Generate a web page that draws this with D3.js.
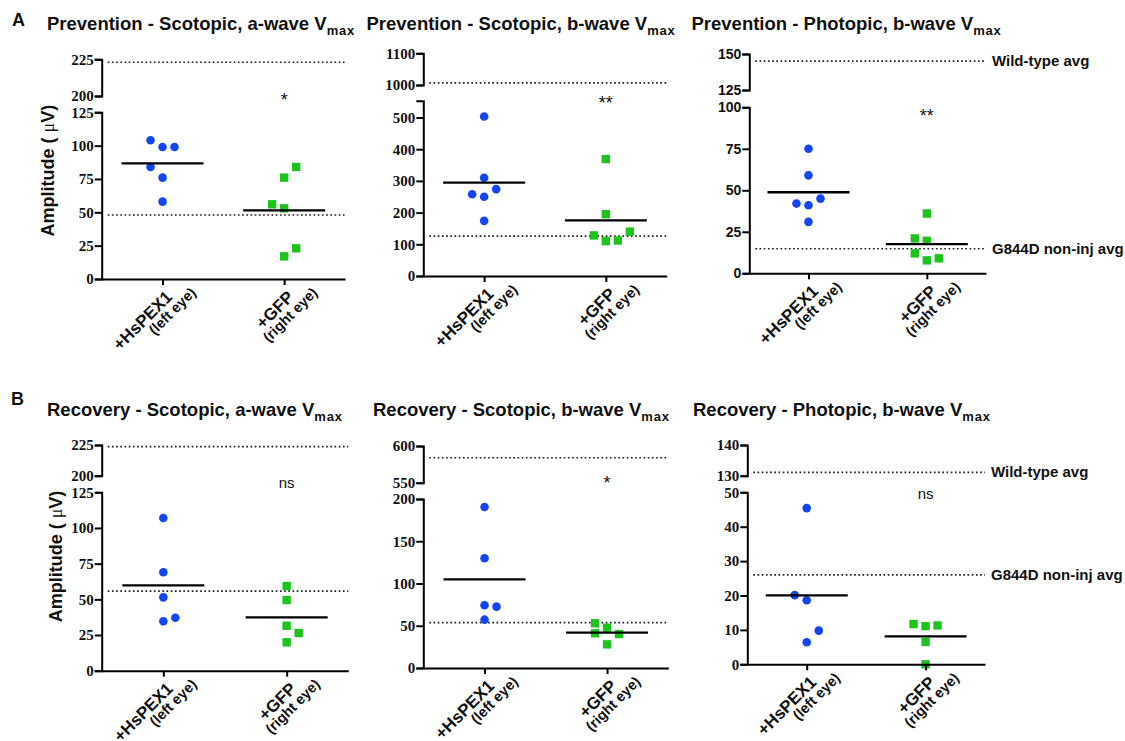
<!DOCTYPE html>
<html>
<head>
<meta charset="utf-8">
<script src="https://cdn.jsdelivr.net/npm/d3@7"></script>
<style>
  body { margin: 0; background: #fff; }
  text { fill: #111; }
</style>
</head>
<body>
<div id="chart"></div>
<script>
// groups on the x axis
const categories = ["+HsPEX1", "+GFP"];
const eyeLabels = ["(left eye)", "(right eye)"];

// amplitudes (uV), one array per panel and group
const prevScotA_hspex = [104, 99, 99, 84, 76, 58];
const prevScotA_gfp   = [84, 76, 56, 53, 23, 17];
const prevScotB_hspex = [503, 310, 258, 274, 250, 174];
const prevScotB_gfp   = [369, 195, 128, 110, 112, 140];
const prevPhotB_hspex = [75, 59, 42, 41, 45, 31];
const prevPhotB_gfp   = [36, 21, 19.6, 12, 7.8, 9];
const recScotA_hspex  = [107, 69, 51.4, 34.6, 37.1];
const recScotA_gfp    = [59.3, 49.5, 31.5, 26.4, 19.9];
const recScotB_hspex  = [190.5, 129.8, 74.2, 72.6, 57.2];
const recScotB_gfp    = [52.9, 47.7, 41, 40.2, 28];
const recPhotB_hspex  = [45.4, 20.1, 18.6, 9.8, 6.4];
const recPhotB_gfp    = [11.7, 11.1, 11.3, 6.5, 0];

// dotted reference averages per panel
const wildTypeAvg = [223, 1007, 145, 223.6, 584, 131.1];
const nonInjAvg   = [48, 126, 14.8, 55.8, 53.6, 26];
const sigLabels   = ["*", "**", "**", "ns", "*", "ns"];

// y tick labels per axis segment
const lowTicks = [[0, 25, 50, 75, 100, 125], [0, 100, 200, 300, 400, 500], [0, 25, 50, 75, 100],
                  [0, 25, 50, 75, 100, 125], [0, 50, 100, 150, 200], [0, 10, 20, 30, 40, 50]];
const hiTicks  = [[200, 225], [1000, 1100], [125, 150], [200, 225], [550, 600], [130, 140]];

const blue = "#1445f3", green = "#1ec41e";

// layout of each panel (pixels)
const panels = [
  { title: "Prevention - Scotopic, a-wave V", tx: 47, ty: 30, ax: 101.7, ay: 279, xEnd: 345,
    low: [0, 125], lowTop: 112.3, hi: [200, 225], hiY: [96, 59.3], serif: true, ylab: 53.5,
    data: [prevScotA_hspex, prevScotA_gfp], cols: [[-1, 0, 1, -1, 0, 0], [1, 0, -1, 0, 1, 0]], sigY: 97 },
  { title: "Prevention - Scotopic, b-wave V", tx: 366.5, ty: 30, ax: 423.3, ay: 276, xEnd: 666.7,
    low: [0, 553], lowTop: 100.7, hi: [1000, 1100], hiY: [85, 53.3], serif: true,
    data: [prevScotB_hspex, prevScotB_gfp], cols: [[0, 0, -1, 1, 0, 0], [0, 0, -1, 0, 1, 2]], sigY: 100 },
  { title: "Prevention - Photopic, b-wave V", tx: 691.5, ty: 30, ax: 749.3, ay: 273.3, xEnd: 986,
    low: [0, 100], lowTop: 107.3, hi: [125, 150], hiY: [90, 54], serif: false, refLabels: true,
    data: [prevPhotB_hspex, prevPhotB_gfp], cols: [[0, 0, -1, 0, 1, 0], [0, -1, 0, -1, 0, 1]], sigY: 113 },
  { title: "Recovery - Scotopic, a-wave V", tx: 47, ty: 416, ax: 101.7, ay: 670.7, xEnd: 348.3,
    low: [0, 125], lowTop: 492.3, hi: [200, 225], hiY: [475.7, 445], serif: true, ylab: 62,
    data: [recScotA_hspex, recScotA_gfp], cols: [[0, 0, 0, 0, 1], [0, 0, 0, 1, 0]], sigY: 483 },
  { title: "Recovery - Scotopic, b-wave V", tx: 373, ty: 416, ax: 423.3, ay: 668, xEnd: 668.3,
    low: [0, 200], lowTop: 499, hi: [550, 600], hiY: [482.7, 446], serif: true,
    data: [recScotB_hspex, recScotB_gfp], cols: [[0, 0, 0, 1, 0], [-1, 0, -1, 1, 0]], sigY: 480 },
  { title: "Recovery - Photopic, b-wave V", tx: 693, ty: 416, ax: 747.3, ay: 664.3, xEnd: 985,
    low: [0, 50], lowTop: 492.3, hi: [130, 140], hiY: [475.7, 445], serif: true, refLabels: true,
    data: [recPhotB_hspex, recPhotB_gfp], cols: [[0, -1, 0, 1, 0], [-1, 0, 1, 0, 0]], sigY: 494 }
];

const sans = "'Liberation Sans', Arial, sans-serif";
const serif = "'Liberation Serif', 'Times New Roman', serif";

const svg = d3.select("#chart").append("svg")
  .attr("width", 1125).attr("height", 741)
  .style("background", "#fff");

// panel letters
svg.append("text").attr("x", 12).attr("y", 25.5).text("A")
  .style("font-family", sans).attr("font-weight", "bold").attr("font-size", 18);
svg.append("text").attr("x", 11).attr("y", 405).text("B")
  .style("font-family", sans).attr("font-weight", "bold").attr("font-size", 18);

panels.forEach((p, i) => {
  const g = svg.append("g");

  const x = d3.scalePoint().domain(categories).range([p.ax, p.xEnd]).padding(0.5);
  const yLow = d3.scaleLinear().domain(p.low).range([p.ay, p.lowTop]);
  const yHi = d3.scaleLinear().domain(p.hi).range(p.hiY);
  const y = v => v >= p.hi[0] ? yHi(v) : yLow(v);
  const jitter = 12;

  // title
  const t = g.append("text").attr("x", p.tx).attr("y", p.ty)
    .style("font-family", sans).attr("font-weight", "bold").attr("font-size", 18.5);
  t.append("tspan").text(p.title);
  t.append("tspan").text("max").attr("font-size", 13).attr("dy", 5).attr("letter-spacing", 0.8);

  // dotted reference lines
  [wildTypeAvg[i], nonInjAvg[i]].forEach(v => {
    g.append("line")
      .attr("x1", p.ax + 6).attr("x2", p.xEnd)
      .attr("y1", y(v)).attr("y2", y(v))
      .attr("stroke", "#222").attr("stroke-width", 1.7)
      .attr("stroke-dasharray", "1.7,2.5");
  });
  if (p.refLabels) {
    g.append("text").attr("x", p.xEnd + 6).attr("y", y(wildTypeAvg[i]) + 5)
      .text("Wild-type avg")
      .style("font-family", sans).attr("font-weight", "bold").attr("font-size", 15);
    g.append("text").attr("x", p.xEnd + 6).attr("y", y(nonInjAvg[i]) + 5)
      .text("G844D non-inj avg")
      .style("font-family", sans).attr("font-weight", "bold").attr("font-size", 15);
  }

  // points
  categories.forEach((c, k) => {
    const pts = p.data[k].map((v, j) => ({ v, col: p.cols[k][j] }));
    if (k === 0) {
      g.selectAll(null).data(pts).enter().append("circle")
        .attr("cx", d => x(c) + d.col * jitter)
        .attr("cy", d => y(d.v))
        .attr("r", 4.3)
        .attr("fill", blue);
    } else {
      g.selectAll(null).data(pts).enter().append("rect")
        .attr("x", d => x(c) + d.col * jitter - 4.2)
        .attr("y", d => y(d.v) - 4.2)
        .attr("width", 8.4).attr("height", 8.4)
        .attr("fill", green);
    }
    // mean line
    const m = d3.mean(p.data[k]);
    g.append("line")
      .attr("x1", x(c) - 41).attr("x2", x(c) + 41)
      .attr("y1", yLow(m)).attr("y2", yLow(m))
      .attr("stroke", "#000").attr("stroke-width", 2.3);
  });

  // broken y axis: lower and upper segments
  const tickFont = p.serif ? serif : sans;
  [[yLow, lowTicks[i]], [yHi, hiTicks[i]]].forEach(([sc, tv]) => {
    const ax = g.append("g")
      .attr("transform", `translate(${p.ax},0)`)
      .call(d3.axisLeft(sc).tickValues(tv).tickSize(7).tickSizeOuter(7).tickPadding(1).tickFormat(d3.format("d")));
    ax.attr("font-family", null).attr("font-size", null);
    ax.selectAll("path, line").attr("stroke", "#000").attr("stroke-width", 2);
    ax.selectAll("text")
      .style("font-family", tickFont).style("font-weight", "bold")
      .style("font-size", p.serif ? "15px" : "14px").style("fill", "#111");
  });

  // x axis
  const xa = g.append("g")
    .attr("transform", `translate(0,${p.ay})`)
    .call(d3.axisBottom(x).tickSize(6).tickSizeOuter(0).tickFormat(""));
  xa.selectAll("path, line").attr("stroke", "#000").attr("stroke-width", 2);

  // rotated category labels
  categories.forEach((c, k) => {
    const lg = g.append("g").attr("transform", `translate(${x(c)},${p.ay}) rotate(-45)`);
    lg.append("text").attr("x", -6).attr("y", 21).attr("text-anchor", "end")
      .text(c).style("font-family", sans).attr("font-weight", "bold").attr("font-size", 17);
    lg.append("text").attr("x", 14).attr("y", 34.5).attr("text-anchor", "end")
      .text(eyeLabels[k]).style("font-family", sans).attr("font-weight", "bold").attr("font-size", 14.5);
  });

  // significance mark
  const s = sigLabels[i];
  g.append("text").attr("x", x(categories[1])).attr("y", p.sigY + (s === "ns" ? 4.5 : 9))
    .attr("text-anchor", "middle").text(s)
    .style("font-family", sans).attr("font-size", s === "ns" ? 15 : 18);

  // y axis title
  if (p.ylab) {
    const yt = g.append("text")
      .attr("transform", `translate(${p.ylab},${(p.ay + p.lowTop) / 2 - 25}) rotate(-90)`)
      .attr("text-anchor", "middle")
      .style("font-family", sans).attr("font-weight", "bold").attr("font-size", 18);
    yt.append("tspan").text("Amplitude ( ");
    yt.append("tspan").text("\u03bc").style("font-family", serif).attr("font-weight", "normal");
    yt.append("tspan").text("V)");
  }
});
</script>
</body>
</html>
